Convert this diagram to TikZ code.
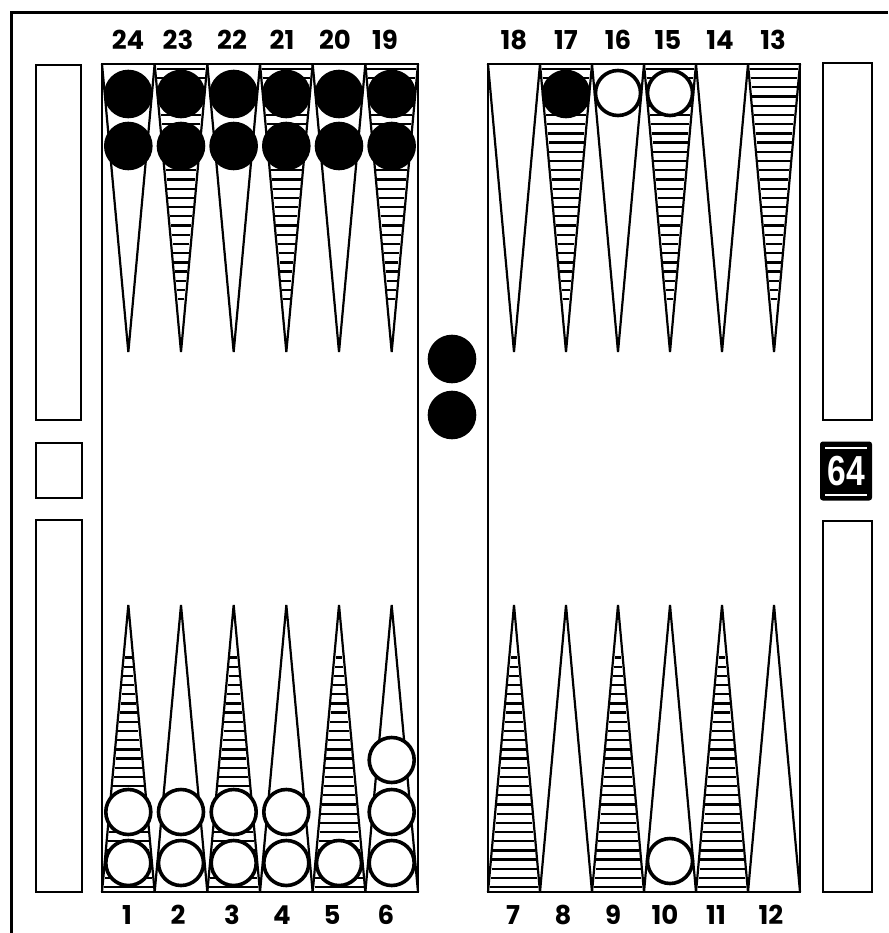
\documentclass[tikz,border=0pt]{standalone}
\usepackage{fontspec}
\setmainfont{Poppins}
\newfontfamily\cubefont{Liberation Sans}
\usetikzlibrary{positioning}

% hatching of one point: left x, width, base y, tip y
\newcommand{\hatchpt}[4]{%
  \foreach \k in {0,...,25} {
    \pgfmathsetmacro\ff{0.017+0.032*\k}
    \pgfmathsetmacro\yy{#3+(#4-#3)*\ff}
    \pgfmathsetmacro\hw{(1-\ff)*#2/2-1.4}
    \draw[hatch] ({#1+#2/2-\hw},\yy) -- ({#1+#2/2+\hw},\yy);
  }}

\begin{document}
\begin{tikzpicture}[x=1pt, y=-1pt,
  frameline/.style={line width=3pt},
  strip/.style={line width=2.8pt},
  tri/.style={line width=2.2pt, line join=miter},
  hatch/.style={line width=2.3pt},
  checker/.style={circle, draw, line width=3.6pt, minimum size=45pt, inner sep=0pt, fill=white},
  blackchecker/.style={checker, fill=black},
  ptlabel/.style={font=\fontsize{26}{28}\selectfont\bfseries, inner sep=0pt}
]
\useasboundingbox (0,0) rectangle (888,933);

% outer frame
\draw[frameline] (11,933) -- (11,13) -- (888,13);

% side strips
\draw[strip] (36,65) rectangle (81,420);
\draw[strip] (36,443) rectangle (82,498);
\draw[strip] (36,520) rectangle (82,892);
\draw[strip] (823,63) rectangle (872,420);
\draw[strip] (823,521) rectangle (872,892);

% boards
\draw[strip] (102,64) rectangle (418,892);
\draw[strip] (488,64) rectangle (800,892);

% points
\foreach \i in {0,...,5} {
  \pgfmathsetmacro\xa{102+52.67*\i}
  \pgfmathsetmacro\xb{488+52*\i}
  \draw[tri] (\xa,64) -- ++(26.33,288) -- ++(26.33,-288);
  \draw[tri] (\xa,892) -- ++(26.33,-287) -- ++(26.33,287);
  \draw[tri] (\xb,64) -- ++(26,288) -- ++(26,-288);
  \draw[tri] (\xb,892) -- ++(26,-287) -- ++(26,287);
}
\foreach \i in {1,3,5} {
  \pgfmathsetmacro\xa{102+52.67*\i}
  \pgfmathsetmacro\xb{488+52*\i}
  \hatchpt{\xa}{52.67}{64}{352}
  \hatchpt{\xb}{52}{64}{352}
}
\foreach \i in {0,2,4} {
  \pgfmathsetmacro\xa{102+52.67*\i}
  \pgfmathsetmacro\xb{488+52*\i}
  \hatchpt{\xa}{52.67}{892}{605}
  \hatchpt{\xb}{52}{892}{605}
}

% point numbers
\foreach \n/\x in {24/128,23/178,22/232,21/282,20/335,19/385,
                   18/514,17/566,16/618,15/668,14/720,13/773}
  \node[ptlabel] (l\n) at (\x,40) {\n};
\foreach \n/\x in {1/127,2/178,3/232,4/282,5/332,6/386,
                   7/513,8/563,9/613,10/665,11/716,12/771}
  \node[ptlabel] (l\n) at (\x,915) {\n};

% black checkers
\foreach \i in {0,...,5} {
  \pgfmathsetmacro\xa{128.3+52.67*\i}
  \node[blackchecker] (b\i a) at (\xa,94) {};
  \node[blackchecker] (b\i b) at (\xa,146) {};
}
\node[blackchecker] (b17) at (566,94) {};
\node[blackchecker] (bar1) at (452,359) {};
\node[blackchecker] (bar2) at (452,415) {};

% white checkers
\foreach \i/\x in {1/128.3,2/181,3/233.7,4/286.3,6/391.7} {
  \node[checker] (w\i a) at (\x,863) {};
  \node[checker] (w\i b) at (\x,812) {};
}
\node[checker] (w5a) at (339,863) {};
\node[checker] (w6c) at (391.7,760) {};
\node[checker] (w10) at (670,861) {};
\node[checker] (w16) at (618,93) {};
\node[checker] (w15) at (670,93) {};

% doubling cube
\node[draw, line width=2pt, fill=black, rounded corners=2pt, minimum width=50pt,
      minimum height=57pt, inner sep=0pt] (cube) at (846,471) {};
\draw[white, line width=2pt] ([xshift=5pt, yshift=-6pt]cube.north west) -- ([xshift=-5pt, yshift=-6pt]cube.north east);
\draw[white, line width=2pt] ([xshift=5pt, yshift=6pt]cube.south west) -- ([xshift=-5pt, yshift=6pt]cube.south east);
\node[text=white, inner sep=0pt, font=\cubefont\bfseries\fontsize{42}{44}\selectfont] (cubenum) at (cube.center) {\scalebox{0.8}[1]{64}};
\end{tikzpicture}
\end{document}
